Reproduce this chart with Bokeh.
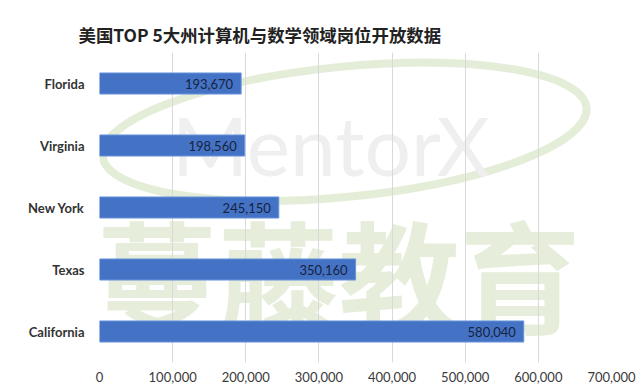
from bokeh.plotting import figure
from bokeh.models import Range1d, FixedTicker, ColumnDataSource, LabelSet, Label, NumeralTickFormatter
from bokeh.core.properties import value
from bokeh.embed import file_html
from bokeh.resources import INLINE

# ---- data ----
states = ["Florida", "Virginia", "New York", "Texas", "California"]   # top -> bottom
jobs = [193670, 198560, 245150, 350160, 580040]
x_ticks = [0, 100000, 200000, 300000, 400000, 500000, 600000, 700000]
title_text = "美国TOP 5大州计算机与数学领域岗位开放数据"

n = len(states)
ypos = [n - 0.5 - i for i in range(n)]
src = ColumnDataSource(dict(y=ypos, v=jobs, lab=[f"{v:,}" for v in jobs]))

p = figure(width=636, height=388, output_backend="svg", toolbar_location=None,
           x_range=Range1d(0, 700000), y_range=Range1d(0, n),
           min_border_left=99, min_border_right=25, min_border_top=52, min_border_bottom=26,
           outline_line_color=None, background_fill_color="white", border_fill_color="white")

p.title.text = title_text
p.title.text_font = "Noto Sans CJK SC"
p.title.text_font_style = "bold"
p.title.text_font_size = "17.4px"
p.title.text_color = "#222222"
p.title.align = "left"
p.title.offset = -21
p.title.vertical_align = "middle"
p.title.standoff = 10

# watermark (behind everything)
p.ellipse(x=[335000], y=[3.72], width=[665000], height=[2.1], angle=0.1,
          fill_color=None, line_color="#dde9cd", line_width=8, line_alpha=0.8, level="image")
p.add_layout(Label(x=-4000, y=0.06, text="蔓藤教育", text_font="Noto Sans CJK SC",
                   text_font_style="bold", text_font_size="121px", text_color="#e6eedb",
                   text_baseline="bottom", level="image"))
p.add_layout(Label(x=99000, y=3.52, text="MentorX", text_font="Lato",
                   text_font_size="82px", text_color="#efefef",
                   text_baseline="alphabetic", level="image"))

p.hbar(y="y", right="v", left=0, height=0.34, source=src,
       fill_color="#4472c4", line_color="#6b95dc", line_width=1)

p.add_layout(LabelSet(x="v", y="y", text="lab", source=src, x_offset=-8,
                      text_align="right", text_baseline="middle",
                      text_font=value("Lato"), text_font_size=value("13px"),
                      text_color=value("#17233f")))

# axes
p.xaxis.ticker = FixedTicker(ticks=x_ticks)
p.xaxis.formatter = NumeralTickFormatter(format="0,0")
p.xaxis.axis_line_color = None
p.xaxis.major_tick_line_color = None
p.xaxis.minor_tick_line_color = None
p.xaxis.major_tick_out = 0
p.xaxis.major_label_standoff = 9
p.xaxis.major_label_text_font = "Lato"
p.xaxis.major_label_text_font_size = "13px"
p.xaxis.major_label_text_color = "#3a3a3a"

p.yaxis.ticker = FixedTicker(ticks=ypos)
p.yaxis.major_label_overrides = {y: s for y, s in zip(ypos, states)}
p.yaxis.axis_line_color = None
p.yaxis.major_tick_line_color = None
p.yaxis.minor_tick_line_color = None
p.yaxis.major_tick_out = 0
p.yaxis.major_label_standoff = 15
p.yaxis.major_label_text_font = "Lato"
p.yaxis.major_label_text_font_style = "bold"
p.yaxis.major_label_text_font_size = "13px"
p.yaxis.major_label_text_color = "#333333"

p.xgrid.grid_line_color = "#d9d9d9"
p.ygrid.grid_line_color = None

open("out.html", "w").write(file_html(p, INLINE))
